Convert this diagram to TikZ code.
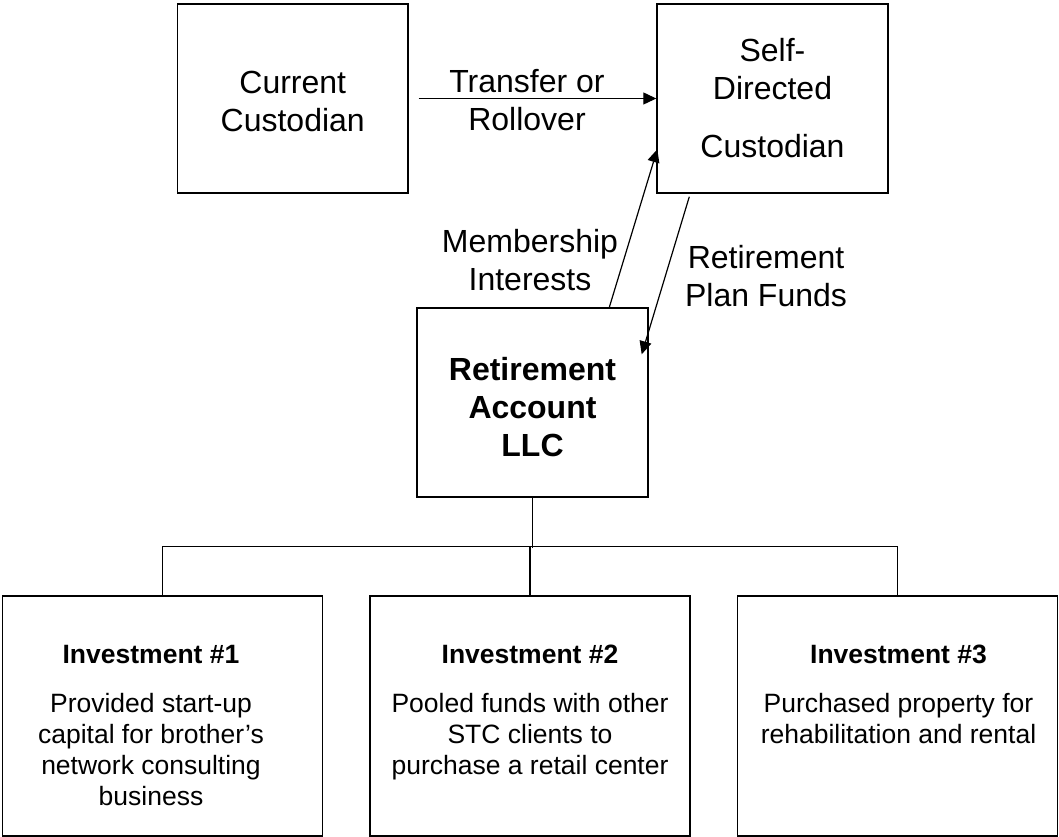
\documentclass[tikz,border=0pt]{standalone}
\usepackage{fontspec}
\setmainfont{Liberation Sans}
\usetikzlibrary{arrows.meta,calc}
\begin{document}
\begin{tikzpicture}[x=1pt,y=-1pt,
  box/.style={draw, line width=1.4pt, inner sep=0pt, align=center},
  big/.style={font=\fontsize{32}{37.5}\selectfont},
  bigb/.style={font=\fontsize{32}{38}\selectfont\bfseries},
  lab/.style={align=center, inner sep=0pt, font=\fontsize{32}{38}\selectfont},
  invtext/.style={align=center, inner sep=0pt, anchor=north, font=\fontsize{26.5}{31}\selectfont},
  arr/.style={line width=1.2pt, -{Triangle[length=13pt,width=12pt]}},
  conn/.style={line width=1.3pt}]
\useasboundingbox (0,0) rectangle (1059,837);
% top boxes
\node[box, big, minimum width=230.5pt, minimum height=189pt] (cur) at (292.75,98.5)
  {\rule{0pt}{28.5pt}Current\\Custodian};
\node[box, big, minimum width=231pt, minimum height=189pt] (sdc) at (772.5,98.5)
  {Self-\\Directed\\[21pt]Custodian};
% LLC
\node[box, bigb, minimum width=231pt, minimum height=189pt] (ret) at (532.5,402.5)
  {\rule{0pt}{33pt}Retirement\\Account\\LLC};
% investments
\node[box, minimum width=319.5pt, minimum height=240pt] (inv1) at (162.5,716) {};
\node[box, minimum width=320pt, minimum height=240pt] (inv2) at (530,716) {};
\node[box, minimum width=320pt, minimum height=240pt] (inv3) at (897.5,716) {};
\node[invtext] (inv1t) at (151,645) {\textbf{Investment \#1}\\[18pt]Provided start-up\\capital for brother’s\\network consulting\\business};
\node[invtext] (inv2t) at (530,645) {\textbf{Investment \#2}\\[18pt]Pooled funds with other\\STC clients to\\purchase a retail center};
\node[invtext] (inv3t) at (898.5,645) {\textbf{Investment \#3}\\[18pt]Purchased property for\\rehabilitation and rental};
% arrow labels
\node[lab] (tr) at (527,100.5) {Transfer or\\Rollover};
\node[lab] (mi) at (530,260) {Membership\\Interests};
\node[lab] (rp) at (766,276.5) {Retirement\\Plan Funds};
% connectors
\draw[arr, shorten <=10pt] (cur.east) -- (sdc.west);
\draw[arr] ($(ret.north west)+(193,0)$) -- ($(sdc.north west)+(1,146)$);
\draw[arr] ($(sdc.south west)+(33,3)$) -- ($(ret.north east)+(-7,47)$);
\draw[conn] (ret.south) -- ++(0,50);
\draw[conn] (inv1.north) -- ++(0,-49) -| (inv3.north);
\draw[conn] (inv2.north) -- ++(0,-49);
\end{tikzpicture}
\end{document}
